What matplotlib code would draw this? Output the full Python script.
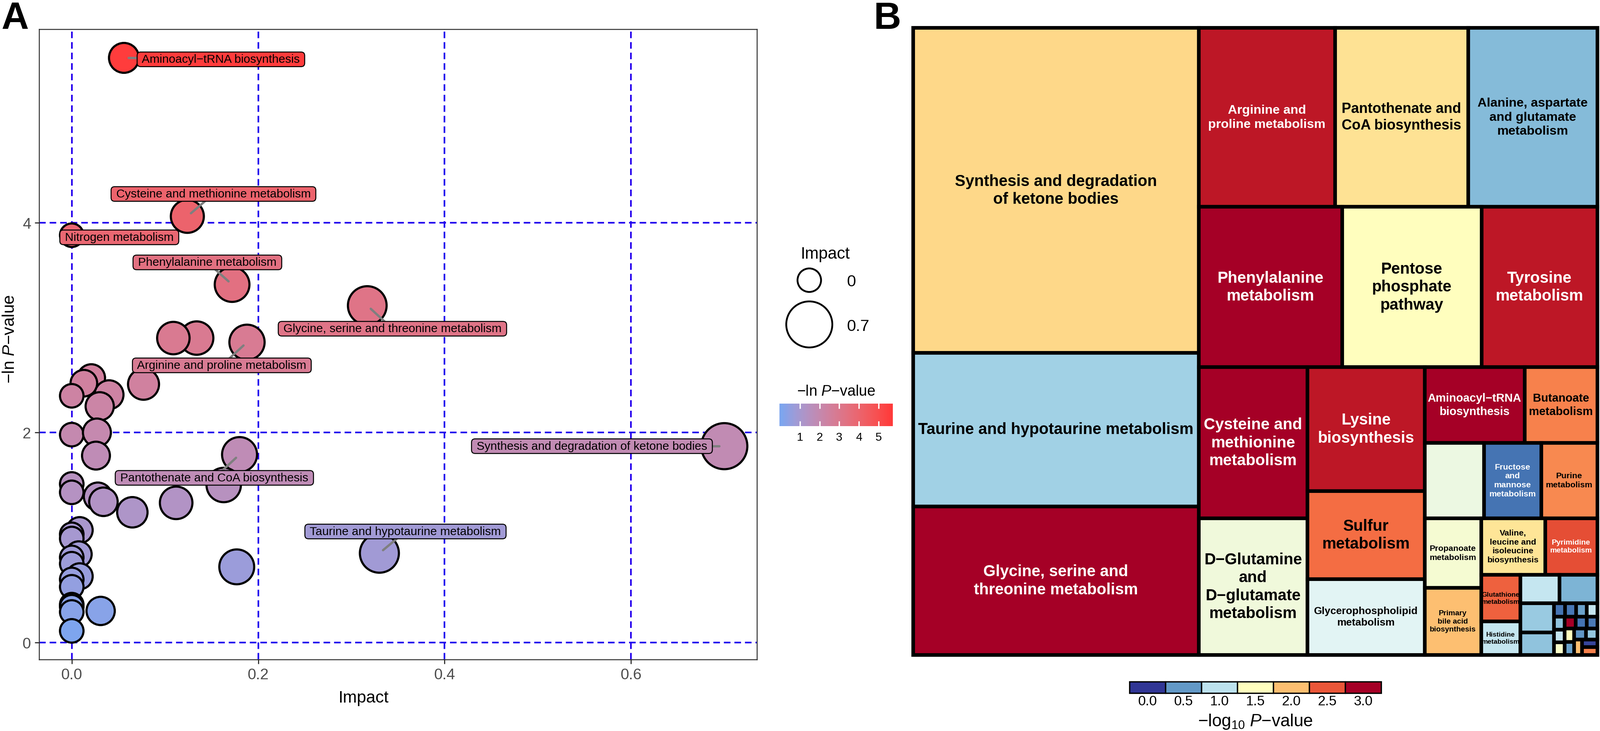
import numpy as np
import matplotlib
matplotlib.use("Agg")
import matplotlib.pyplot as plt
from matplotlib.colors import ListedColormap, Normalize, to_rgb
from matplotlib.patches import Rectangle
from matplotlib.lines import Line2D

plt.rcParams['font.family'] = ['Liberation Sans', 'DejaVu Sans']
plt.rcParams['mathtext.fontset'] = 'custom'
plt.rcParams['mathtext.rm'] = 'Liberation Sans'
plt.rcParams['mathtext.it'] = 'Liberation Sans:italic'
plt.rcParams['mathtext.bf'] = 'Liberation Sans:bold'

# ---------------- panel A data: pathway impact vs -ln P ----------------
impact = [0.056, 0.124, 0.000, 0.172, 0.317, 0.134, 0.109, 0.188, 0.077, 0.021,
          0.013, 0.000, 0.040, 0.030, 0.000, 0.027, 0.026, 0.180, 0.700, 0.163,
          0.000, 0.000, 0.028, 0.034, 0.065, 0.112, 0.0085, 0.000, 0.000, 0.0075,
          0.000, 0.000, 0.0085, 0.000, 0.000, 0.000, 0.000, 0.000, 0.000, 0.031,
          0.177, 0.330]
neg_ln_p = [5.57, 4.06, 3.88, 3.41, 3.21, 2.90, 2.90, 2.86, 2.46, 2.52,
            2.47, 2.35, 2.36, 2.25, 1.98, 2.00, 1.78, 1.79, 1.87, 1.50,
            1.51, 1.43, 1.39, 1.34, 1.24, 1.33, 1.07, 1.03, 0.99, 0.84,
            0.81, 0.75, 0.63, 0.60, 0.53, 0.36, 0.34, 0.29, 0.11, 0.30,
            0.72, 0.85]
pathway = ['Aminoacyl−tRNA biosynthesis', 'Cysteine and methionine metabolism',
           'Nitrogen metabolism', 'Phenylalanine metabolism',
           'Glycine, serine and threonine metabolism', '', '',
           'Arginine and proline metabolism'] + [''] * 9 + \
          ['Pantothenate and CoA biosynthesis',
           'Synthesis and degradation of ketone bodies'] + [''] * 22 + \
          ['Taurine and hypotaurine metabolism']
size_breaks = [0, 0.7]
cbar_ticks_a = [1, 2, 3, 4, 5]

# where the repelled labels ended up (data units)
label_xy = {
    'Aminoacyl−tRNA biosynthesis': (0.160, 5.556),
    'Cysteine and methionine metabolism': (0.152, 4.273),
    'Nitrogen metabolism': (0.051, 3.86),
    'Phenylalanine metabolism': (0.1455, 3.621),
    'Glycine, serine and threonine metabolism': (0.344, 2.989),
    'Arginine and proline metabolism': (0.161, 2.640),
    'Synthesis and degradation of ketone bodies': (0.558, 1.870),
    'Pantothenate and CoA biosynthesis': (0.153, 1.568),
    'Taurine and hypotaurine metabolism': (0.358, 1.057),
}

# ---------------- panel B data: treemap ----------------
tm_pathway = [
    'Synthesis and degradation\nof ketone bodies',
    'Taurine and hypotaurine metabolism',
    'Glycine, serine and\nthreonine metabolism',
    'Arginine and\nproline metabolism',
    'Pantothenate and\nCoA biosynthesis',
    'Alanine, aspartate\nand glutamate\nmetabolism',
    'Phenylalanine\nmetabolism',
    'Pentose\nphosphate\npathway',
    'Tyrosine\nmetabolism',
    'Cysteine and\nmethionine\nmetabolism',
    'D−Glutamine\nand\nD−glutamate\nmetabolism',
    'Lysine\nbiosynthesis',
    'Sulfur\nmetabolism',
    'Glycerophospholipid\nmetabolism',
    'Aminoacyl−tRNA\nbiosynthesis',
    'Butanoate\nmetabolism',
    '',
    'Fructose\nand\nmannose\nmetabolism',
    'Purine\nmetabolism',
    'Propanoate\nmetabolism',
    'Primary\nbile acid\nbiosynthesis',
    'Valine,\nleucine and\nisoleucine\nbiosynthesis',
    'Pyrimidine\nmetabolism',
    'Glutathione\nmetabolism',
    'Histidine\nmetabolism',
] + [''] * 21
tm_size = [595, 281, 272, 156, 153, 148, 147, 143, 119, 105,
           95, 93, 66, 57, 48.4, 35.2, 28.8, 27.7, 27.1, 25.2,
           24.3, 23.2, 18.9, 11.7, 8.4, 7.1, 6.9, 6.3, 4.8,
           0.96, 0.94, 0.92, 0.90, 0.88, 0.87, 0.86, 0.85, 0.84,
           0.83, 0.82, 0.81, 0.80, 0.79, 0.78, 0.77, 0.76]
tm_log10p = [1.85, 0.85, 3.1, 2.85, 1.78, 0.70, 3.1, 1.5, 2.85, 3.1,
             1.35, 2.85, 2.4, 1.22, 3.0, 2.3, 1.32, 0.3, 2.27, 1.40,
             2.0, 1.75, 2.55, 2.45, 1.05, 1.05, 0.65, 0.80, 0.75,
             0.30, 0.32, 0.55, 1.05, 0.75, 1.05, 1.45, 3.1, 0.30,
             0.33, 1.5, 0.55, 0.48, 0.78, 2.0, 0.08, 2.3]
legend_bins_b = [0.0, 0.5, 1.0, 1.5, 2.0, 2.5, 3.0]

# ---------------- helpers ----------------
FIG_W, FIG_H, DPI = 4050, 1852, 300
PX_PER_PT = DPI / 72


def fx(px):
    return px / FIG_W


def fy(py):
    return 1 - py / FIG_H


_M = np.array([[0.4124, 0.3576, 0.1805],
               [0.2126, 0.7152, 0.0722],
               [0.0193, 0.1192, 0.9505]])
_WHITE = np.array([0.95047, 1.0, 1.08883])


def to_lab(color):
    rgb = np.array(to_rgb(color))
    lin = np.where(rgb <= 0.04045, rgb / 12.92, ((rgb + 0.055) / 1.055) ** 2.4)
    xyz = _M @ lin / _WHITE
    f = np.where(xyz > (6 / 29) ** 3, np.cbrt(xyz), xyz / (3 * (6 / 29) ** 2) + 4 / 29)
    return np.array([116 * f[1] - 16, 500 * (f[0] - f[1]), 200 * (f[1] - f[2])])


def from_lab(lab):
    fy_ = (lab[0] + 16) / 116
    f = np.array([fy_ + lab[1] / 500, fy_, fy_ - lab[2] / 200])
    xyz = np.where(f > 6 / 29, f ** 3, 3 * (6 / 29) ** 2 * (f - 4 / 29)) * _WHITE
    lin = np.clip(np.linalg.solve(_M, xyz), 0, None)
    rgb = np.where(lin <= 0.0031308, 12.92 * lin, 1.055 * lin ** (1 / 2.4) - 0.055)
    return np.clip(rgb, 0, 1)


def lab_gradient(low, high, n=256):
    a, b = to_lab(low), to_lab(high)
    return ListedColormap([from_lab(a + (b - a) * t) for t in np.linspace(0, 1, n)])


def luminance(c):
    rgb = np.array(c[:3])
    lin = np.where(rgb <= 0.04045, rgb / 12.92, ((rgb + 0.055) / 1.055) ** 2.4)
    return 0.2126 * lin[0] + 0.7152 * lin[1] + 0.0722 * lin[2]


def worst(row, length):
    t = sum(row) / length
    return max(max(a / t / t, t * t / a) for a in row)


def squarify(values, x, y, w, h):
    rects = []
    i = 0
    while i < len(values):
        vertical = w >= h
        length = h if vertical else w
        row = [values[i]]
        j = i + 1
        while j < len(values) and worst(row + [values[j]], length) <= worst(row, length):
            row.append(values[j])
            j += 1
        t = sum(row) / length
        pos = 0
        for a in row:
            side = a / t
            if vertical:
                rects.append((x, y + pos, t, side))
            else:
                rects.append((x + pos, y, side, t))
            pos += side
        if vertical:
            x += t
            w -= t
        else:
            y += t
            h -= t
        i = j
    return rects


fig = plt.figure(figsize=(FIG_W / DPI, FIG_H / DPI), dpi=DPI)
renderer = fig.canvas.get_renderer()

# ================= panel A =================
ax = fig.add_axes([fx(99), fy(1671), fx(1916) - fx(99), (1671 - 75) / FIG_H])
x = np.array(impact)
y = np.array(neg_ln_p)
xr, yr = x.max() - x.min(), y.max() - y.min()
ax.set_xlim(x.min() - 0.05 * xr, x.max() + 0.05 * xr)
ax.set_ylim(y.min() - 0.05 * yr, y.max() + 0.05 * yr)

cmap_a = lab_gradient('#7EA5EE', '#FF3C3C')
norm_a = Normalize(y.min(), y.max())
colors = cmap_a(norm_a(y))

EDGE_PT = 1.3


def bubble_diam_pt(v):
    # outer diameter grows with sqrt(impact), 65 px at 0 to 122 px at the max
    d_px = 65 + 57 * np.sqrt(np.asarray(v, float) / x.max())
    return d_px / PX_PER_PT - EDGE_PT


for gx in [0, 0.2, 0.4, 0.6]:
    ax.axvline(gx, color='#2200EE', lw=1.0, ls=(0, (4, 2.4)), zorder=1)
for gy in [0, 2, 4]:
    ax.axhline(gy, color='#2200EE', lw=1.0, ls=(0, (4, 2.4)), zorder=1)

ax.scatter(x, y, s=bubble_diam_pt(x) ** 2, c=colors, edgecolors='black',
           linewidths=EDGE_PT, zorder=3)

ax.set_xticks([0, 0.2, 0.4, 0.6])
ax.set_xticklabels(['0.0', '0.2', '0.4', '0.6'])
ax.set_yticks([0, 2, 4])
ax.tick_params(axis='both', length=2.75, width=0.7, color='#333333',
               labelsize=9.3, labelcolor='#4D4D4D', pad=2.2)
for sp in ax.spines.values():
    sp.set_color('#333333')
    sp.set_linewidth(0.6)

labels = []
for i, name in enumerate(pathway):
    if not name:
        continue
    lx, ly = label_xy[name]
    t = ax.text(lx, ly, f" {name} ", ha='center', va='center', fontsize=7.2, zorder=6,
                bbox=dict(boxstyle='round,pad=0.15,rounding_size=0.3',
                          fc=colors[i], ec='black', lw=0.6))
    labels.append((t, x[i], y[i]))

fig.canvas.draw()
for t, px, py in labels:
    bb = t.get_bbox_patch().get_window_extent(renderer)
    p = ax.transData.transform((px, py))
    if bb.contains(*p):
        continue
    c = np.array([(bb.x0 + bb.x1) / 2, (bb.y0 + bb.y1) / 2])
    d = c - p
    s = min(bb.width / 2 / abs(d[0]) if d[0] else np.inf,
            bb.height / 2 / abs(d[1]) if d[1] else np.inf)
    end = c - s * d
    start = p + d / np.hypot(*d) * 12
    if np.dot(end - start, d) <= 0 or np.hypot(*(end - start)) < 4:
        continue
    (x0, y0), (x1, y1) = ax.transData.inverted().transform([start, end])
    ax.plot([x0, x1], [y0, y1], color='#7F7F7F', lw=1.4, zorder=5,
            solid_capstyle='round')

fig.text(fx(920), fy(1768), 'Impact', ha='center', va='center', fontsize=10.2)
fig.text(fx(25), fy(859), '−ln $P$−value', ha='center', va='center',
         rotation=90, fontsize=10.2)
fig.text(fx(4), fy(48), 'A', ha='left', va='center', fontsize=23, weight='bold')

# size legend
fig.text(fx(2089), fy(655), 'Impact', ha='center', va='baseline', fontsize=10)
for val, yc in zip(size_breaks, [709.5, 822]):
    fig.add_artist(Line2D([fx(2048)], [fy(yc)], marker='o', ms=bubble_diam_pt(val),
                          mfc='none', mec='black', mew=1.1, ls='none',
                          transform=fig.transFigure))
    fig.text(fx(2143), fy(yc + 5), f"{val:g}", ha='left', va='center', fontsize=9.9)

# colour bar for -ln P (20 bins, like ggplot's colourbar)
nbin = 20
half = (y.max() - y.min()) / (nbin - 1) / 2
cax = fig.add_axes([fx(1973), fy(1080), (2260 - 1973) / FIG_W, 57 / FIG_H])
grad = np.linspace(y.min(), y.max(), nbin)[None, :]
cax.imshow(grad, aspect='auto', cmap=cmap_a, norm=norm_a, interpolation='bilinear',
           extent=(y.min() - half, y.max() + half, 0, 1))
cax.set_xlim(y.min() - half, y.max() + half)
cax.set_ylim(0, 1)
cax.set_axis_off()
for v in cbar_ticks_a:
    cax.plot([v, v], [0, 0.2], color='white', lw=0.8)
    cax.plot([v, v], [0.8, 1], color='white', lw=0.8)
    cax.text(v, -0.25, str(v), ha='center', va='top', fontsize=7)
fig.text(fx(2116), fy(1002), '−ln $P$−value', ha='center', va='baseline', fontsize=9)

# ================= panel B: treemap =================
axb = fig.add_axes([fx(2311), fy(1659), (4043 - 2311) / FIG_W, (1659 - 71) / FIG_H])
ext = axb.get_window_extent()
tw, th = ext.width, ext.height
axb.set_xlim(0, tw)
axb.set_ylim(th, 0)
axb.axis('off')

cmap_b = plt.get_cmap('RdYlBu_r')
norm_b = Normalize(0, 3, clip=True)

order = np.argsort(-np.array(tm_size), kind='stable')
vals = np.array(tm_size, float)[order]
vals = list(vals * tw * th / vals.sum())
rects = squarify(vals, 0, 0, tw, th)

FS_MAX, FS_MIN, PAD = 9.6, 4.0, 9
for (rx, ry, rw, rh), idx in zip(rects, order):
    col = cmap_b(norm_b(tm_log10p[idx]))
    axb.add_patch(Rectangle((rx, ry), rw, rh, fc=col, ec='black', lw=2.2,
                            clip_on=False, zorder=1))
    lab = tm_pathway[idx]
    if not lab:
        continue
    tcol = 'white' if luminance(col) < 0.25 else 'black'
    # measured with plain hyphens, drawn with minus signs
    t = axb.text(rx + rw / 2, ry + rh / 2, lab.replace('−', '-'), ha='center',
                 va='center', fontsize=FS_MAX, weight='bold', color=tcol,
                 linespacing=1.25, zorder=2, clip_on=False)
    te = t.get_window_extent(renderer)
    scale = min((rw - 2 * PAD) / te.width, (rh - 2 * PAD) / (0.85 * te.height), 1)
    fs = FS_MAX
    while fs / FS_MAX > scale + 1e-9 and fs * 0.9 >= FS_MIN:
        fs *= 0.9
    t.set_fontsize(max(fs, FS_MIN))
    t.set_text(lab)

# binned legend for -log10 P
cbx = fig.add_axes([fx(2859), fy(1756), (3496 - 2859) / FIG_W, 29 / FIG_H])
cbx.set_xlim(-0.25, 3.25)
cbx.set_ylim(0, 1)
cbx.axis('off')
for v in legend_bins_b:
    cbx.add_patch(Rectangle((v - 0.25, 0), 0.5, 1, fc=cmap_b(norm_b(v)), ec='black',
                            lw=0.8, clip_on=False))
    cbx.text(v, -0.72, f"{v:.1f}", ha='center', va='center', fontsize=8.3)
cbx.text(1.5, -2.45, '−log$_{10}$ $P$−value', ha='center', va='center', fontsize=10.5)

fig.text(fx(2212), fy(48), 'B', ha='left', va='center', fontsize=23, weight='bold')

fig.savefig('out.png', dpi=DPI)
